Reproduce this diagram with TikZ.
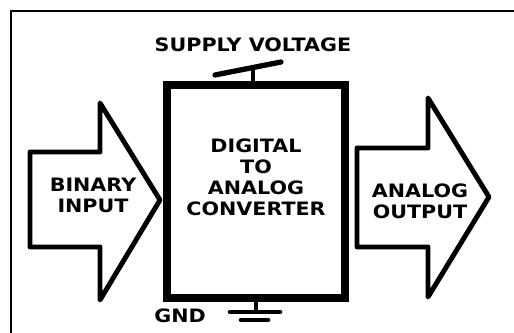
\documentclass[tikz,border=0pt]{standalone}
\usepackage{fontspec}
\setmainfont{DejaVu Sans}
\usepackage{tikz}
\usetikzlibrary{positioning,calc}
\tikzset{
  lbl/.style={font=\bfseries\fontsize{10.5}{12}\selectfont,align=center,
    xscale=1.12,inner sep=0pt},
  blockarrow/.style={draw,line width=2.8pt,line join=round,fill=white},
  wire/.style={line width=2.6pt},
}
\begin{document}
\begin{tikzpicture}[x=0.02cm,y=-0.02cm,
  dacbox/.style={rectangle,draw,line width=4.5pt,minimum width=3.56cm,
    minimum height=4.26cm,inner sep=0pt}]
  \useasboundingbox (0,0) rectangle (514,333);
  % frame
  \draw[line width=1.1pt] (11,333) -- (11,11) -- (514,11);

  % converter block
  \node[dacbox] (dac) at (256,191.5) {};
  \node[lbl] (dactxt) at (256,177) {DIGITAL\\TO\\ANALOG\\CONVERTER};

  % input and output arrows
  \draw[blockarrow] (30,152) -- (100,152) -- (100,103) -- (160,200)
    -- (100,300) -- (100,247) -- (30,247) -- cycle;
  \node[lbl] (inp) at (93,195) {BINARY\\INPUT};
  \draw[blockarrow] (357,148) -- (428,148) -- (428,98) -- (489,197)
    -- (428,297) -- (428,247) -- (357,247) -- cycle;
  \node[lbl] (outp) at (420,201) {ANALOG\\OUTPUT};

  % supply
  \node[lbl] (vcc) at (253,45) {SUPPLY VOLTAGE};
  \coordinate (vtop) at (253,70);
  \coordinate (vl) at (215,75);
  \coordinate (vr) at (281,62);
  \draw[wire] (dac.north -| vtop) -- (vtop);
  \draw[line width=3pt,line cap=round] (vl) -- (vr);

  % ground
  \node[lbl] (gnd) at (180,316) {GND};
  \coordinate (gtop) at (256,312);
  \draw[wire] (dac.south -| gtop) -- (gtop);
  \coordinate (g1l) at (230,312);
  \coordinate (g1r) at (280,312);
  \coordinate (g2l) at (241,320);
  \coordinate (g2r) at (268,320);
  \draw[wire,line cap=round] (g1l) -- (g1r);
  \draw[wire,line cap=round] (g2l) -- (g2r);
\end{tikzpicture}
\end{document}
